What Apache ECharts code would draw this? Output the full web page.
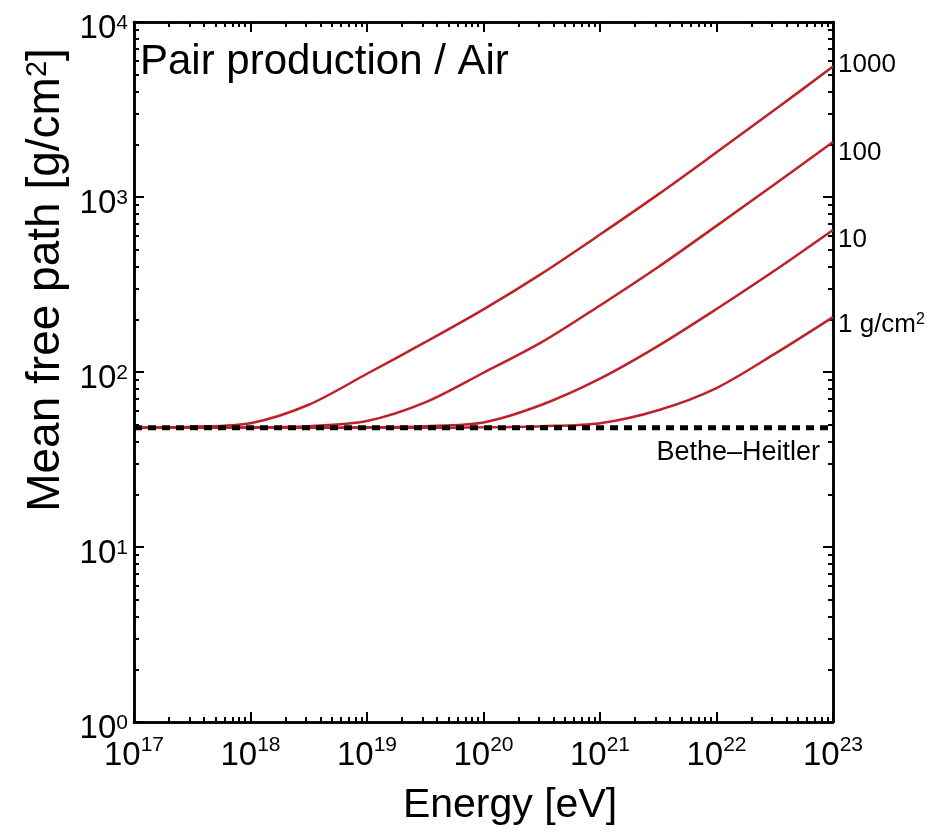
<!DOCTYPE html>
<html>
<head>
<meta charset="utf-8">
<script src="https://cdn.jsdelivr.net/npm/echarts@6/dist/echarts.min.js"></script>
<style>
  html, body { margin: 0; padding: 0; background: #fff; }
  #chart { width: 939px; height: 832px; }
</style>
</head>
<body>
<div id="chart"></div>
<script>
// energy grid (eV), half-decade steps
const energies = [1e17, 3.16e17, 1e18, 3.16e18, 1e19, 3.16e19, 1e20, 3.16e20, 1e21, 3.16e21, 1e22, 3.16e22, 1e23];

// mean free path [g/cm^2], one array per density label
const path1000 = [48, 48.7, 51, 65, 97.7, 148, 228, 365, 610, 1035, 1800, 3150, 5560];
const path100 = [48, 48, 48.3, 49, 52.5, 67, 99, 148, 240, 398, 684, 1183, 2061];
const path10 = [48, 48, 48, 48, 48.3, 49, 51.5, 65, 91.6, 141, 229, 380, 648];
const path1 = [48, 48, 48, 48, 48, 48, 48.3, 49, 51, 60.5, 81, 127, 206];

const bheEnergy = [1e17, 1e23];
const bhePath = [48, 48];

const curveLabels = ['1000', '100', '10', '1 g/cm{s|2}'];

const xMajor = [1e17, 1e18, 1e19, 1e20, 1e21, 1e22, 1e23];
const yMajor = [1, 10, 100, 1000, 10000];

const RED = '#bd2229';
const FONT = '"Liberation Sans", Arial, Helvetica, sans-serif';

function minorsOf(majors) {
  const out = [];
  for (let i = 0; i < majors.length - 1; i++) {
    for (let k = 2; k <= 9; k++) out.push(k * majors[i]);
  }
  return out;
}
const xMinor = minorsOf(xMajor);
const yMinor = minorsOf(yMajor);

// log10 of the end values can land a hair outside the extent, pull them in
function inside(vals, min, max) {
  return vals.map(v => Math.max(min * 1.0000001, Math.min(max * 0.9999999, v)));
}

function pairs(xs, ys) {
  return xs.map((x, i) => [x, ys[i]]);
}

function expOf(v) {
  return Math.round(Math.log10(v));
}

function tickAxis(base, extra) {
  return Object.assign({
    type: 'log',
    logBase: 10,
    splitLine: { show: false },
    minorTick: { show: false },
    minorSplitLine: { show: false },
    axisLine: { show: true, lineStyle: { color: '#000', width: 2.5 } },
    axisLabel: { show: false },
  }, base, extra);
}

function majorTick(vals) {
  return { show: true, inside: true, length: 10, customValues: vals, lineStyle: { color: '#000', width: 2 } };
}
function minorTickOf(vals) {
  return { show: true, inside: true, length: 5, customValues: vals, lineStyle: { color: '#000', width: 2 } };
}

const xBase = { min: 1e17, max: 1e23 };
const yBase = { min: 1, max: 10000 };
const xTicks = inside(xMajor, 1e17, 1e23);
const yTicks = inside(yMajor, 1, 10000);

const chart = echarts.init(document.getElementById('chart'));

const redSeries = [path1000, path100, path10, path1].map((vals, i) => ({
  type: 'line',
  name: curveLabels[i],
  data: pairs(energies, vals),
  showSymbol: false,
  smooth: 0.3,
  lineStyle: { color: RED, width: 2.5 },
  z: 2,
  endLabel: {
    show: true,
    formatter: curveLabels[i],
    color: '#000',
    fontFamily: FONT,
    fontSize: 26,
    distance: 5,
    offset: [0, [-2, 11, 10, 8][i]],
    rich: { s: { fontSize: 16, verticalAlign: 'top', lineHeight: 12, fontFamily: FONT } },
  },
}));

chart.setOption({
  animation: false,
  backgroundColor: '#fff',
  grid: { left: 134, right: 106, top: 22, bottom: 110 },
  xAxis: [
    tickAxis(xBase, {
      position: 'bottom',
      axisTick: majorTick(xTicks),
      axisLabel: {
        show: true,
        customValues: xTicks,
        margin: 13,
        formatter: v => '{b|10}{s|' + expOf(v) + '}',
        rich: {
          b: { fontSize: 33, lineHeight: 42, fontFamily: FONT, color: '#000' },
          s: { fontSize: 21, lineHeight: 10, verticalAlign: 'top', fontFamily: FONT, color: '#000' },
        },
      },
    }),
    tickAxis(xBase, { position: 'bottom', axisTick: minorTickOf(xMinor) }),
    tickAxis(xBase, { position: 'top', axisTick: majorTick(xTicks) }),
    tickAxis(xBase, { position: 'top', axisTick: minorTickOf(xMinor) }),
  ],
  yAxis: [
    tickAxis(yBase, {
      position: 'left',
      axisTick: majorTick(yTicks),
      axisLabel: {
        show: true,
        customValues: yTicks,
        margin: 6,
        padding: [14, 0, 0, 0],
        formatter: v => '{b|10}{s|' + expOf(v) + '}',
        rich: {
          b: { fontSize: 33, lineHeight: 32, fontFamily: FONT, color: '#000' },
          s: { fontSize: 21, lineHeight: 14, verticalAlign: 'top', fontFamily: FONT, color: '#000' },
        },
      },
    }),
    tickAxis(yBase, { position: 'left', axisTick: minorTickOf(yMinor) }),
    tickAxis(yBase, { position: 'right', axisTick: majorTick(yTicks) }),
    tickAxis(yBase, { position: 'right', axisTick: minorTickOf(yMinor) }),
  ],
  series: redSeries.concat([{
    type: 'line',
    name: 'Bethe-Heitler',
    data: pairs(bheEnergy, bhePath),
    showSymbol: false,
    lineStyle: { color: '#000', width: 5, type: [8, 6] },
    z: 3,
    endLabel: {
      show: true,
      formatter: 'Bethe\u2013Heitler',
      color: '#000',
      fontFamily: FONT,
      fontSize: 27,
      distance: 0,
      align: 'right',
      offset: [-13, 25],
    },
  }]),
  graphic: [
    {
      type: 'text',
      left: 140,
      top: 41,
      style: { text: 'Pair production / Air', fontSize: 42, fontFamily: FONT, fill: '#000' },
    },
    {
      type: 'text',
      x: 510,
      y: 806,
      style: { text: 'Energy [eV]', fontSize: 41, fontFamily: FONT, fill: '#000', align: 'center', verticalAlign: 'middle' },
    },
    {
      type: 'text',
      x: 46,
      y: 280,
      rotation: Math.PI / 2,
      style: {
        text: 'Mean free path [g/cm{s|2}]',
        fontSize: 46,
        fontFamily: FONT,
        fill: '#000',
        align: 'center',
        verticalAlign: 'middle',
        rich: {
          s: { fontSize: 29, lineHeight: 14, verticalAlign: 'top', fontFamily: FONT, fill: '#000' },
        },
      },
    },
  ],
});
</script>
</body>
</html>
